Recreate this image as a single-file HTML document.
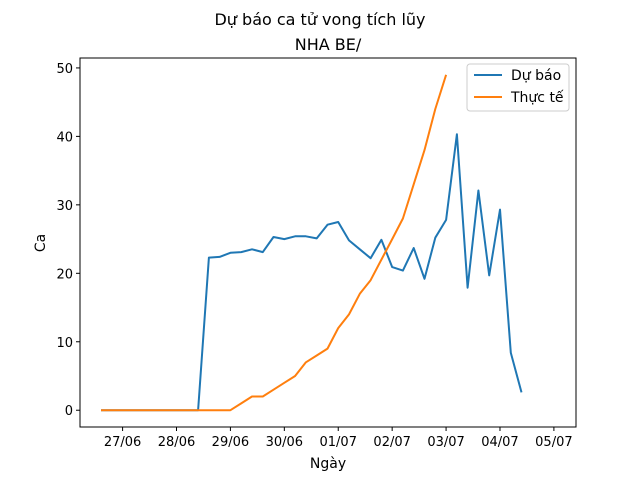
<!DOCTYPE html>
<html><head><meta charset="utf-8"><style>
body{margin:0;background:#fff;}
svg{display:block;font-family:"DejaVu Sans","Liberation Sans",sans-serif;}
</style></head><body>
<svg id="chart" width="640" height="480" viewBox="0 0 640 480" xmlns="http://www.w3.org/2000/svg">
<rect width="640" height="480" fill="#fff"/>
<text x="320" y="25" font-size="16" text-anchor="middle" fill="#000">Dự báo ca tử vong tích lũy</text>
<text x="328" y="50" font-size="16" text-anchor="middle" fill="#000">NHA BE/</text>
<g id="plot"></g>
<text x="328" y="468" font-size="14" text-anchor="middle">Ngày</text>
<text x="0" y="0" font-size="14" text-anchor="middle" transform="translate(45,243) rotate(-90)">Ca</text>
<g>
<rect x="467" y="64" width="102" height="47" rx="3" fill="#fff" fill-opacity="0.8" stroke="#ccc"/>
<line x1="474" y1="75" x2="502" y2="75" stroke="#1f77b4" stroke-width="2"/>
<text x="511" y="80" font-size="14">Dự báo</text>
<line x1="474" y1="97" x2="502" y2="97" stroke="#ff7f0e" stroke-width="2"/>
<text x="511" y="102" font-size="14">Thực tế</text>
</g>
</svg>
<script>
const xTickLabels=["27/06","28/06","29/06","30/06","01/07","02/07","03/07","04/07","05/07"];
const yTickValues=[0,10,20,30,40,50];
const forecastValues=[0,0,0,0,0,0,0,0,0,0,22.3,22.4,23.0,23.1,23.5,23.1,25.3,25.0,25.4,25.4,25.1,27.1,27.5,24.8,23.5,22.2,24.9,20.9,20.4,23.7,19.2,25.2,27.8,40.3,17.9,32.1,19.7,29.3,8.4,2.6];
const actualValues=[0,0,0,0,0,0,0,0,0,0,0,0,0,1,2,2,3,4,5,7,8,9,12,14,17,19,22,25,28,33,38,44,49];
const startDay=-0.4, stepDay=0.2;
const L=80,R=576,T=58,B=427;
const xMin=-0.79,xMax=8.41,yMin=-2.45,yMax=51.45;
const X=d=>L+(d-xMin)/(xMax-xMin)*(R-L);
const Y=v=>B-(v-yMin)/(yMax-yMin)*(B-T);
const NS="http://www.w3.org/2000/svg";
const g=document.getElementById('plot');
function mk(t,a){const e=document.createElementNS(NS,t);for(const k in a)e.setAttribute(k,a[k]);g.appendChild(e);return e;}
function line(vals,color,name){
  const pts=vals.map((v,i)=>X(startDay+i*stepDay).toFixed(1)+","+Y(v).toFixed(1)).join(" ");
  const p=mk('polyline',{points:pts,fill:'none',stroke:color,'stroke-width':2,'stroke-linejoin':'round'});
  
  
}
line(forecastValues,'#1f77b4','forecast-line');
line(actualValues,'#ff7f0e','actual-line');
const fr=mk('rect',{x:L,y:T,width:R-L,height:B-T,fill:'none',stroke:'#000','stroke-width':1});


xTickLabels.forEach((lab,i)=>{
  const x=X(i);
  const tk=mk('line',{x1:x,y1:B,x2:x,y2:B+4,stroke:'#000'});
  
  
  const t=mk('text',{x:x,y:B+19,'font-size':13,'text-anchor':'middle'});
  t.textContent=lab;
  
  
});
yTickValues.forEach(v=>{
  const y=Y(v);
  const tk=mk('line',{x1:L-4,y1:y,x2:L,y2:y,stroke:'#000'});
  
  
  const t=mk('text',{x:L-7,y:y+5,'font-size':13,'text-anchor':'end'});
  t.textContent=v;
  
  
});
</script>
</body></html>
